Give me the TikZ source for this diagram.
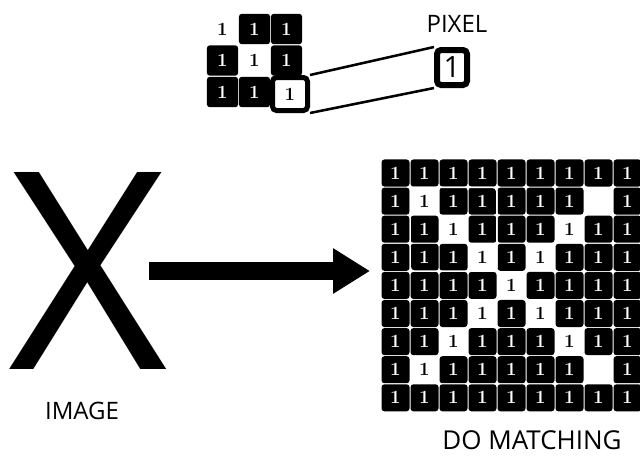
\documentclass[tikz,border=0pt]{standalone}
\usepackage{fontspec}
\setsansfont{Open Sans}
\usetikzlibrary{arrows.meta}
\tikzset{
  cellblk/.style={fill=black,text=white,rounded corners=2.2pt,inner sep=0pt,
    minimum width=21pt,minimum height=20.3pt,font=\fontsize{14}{14}\selectfont\bfseries},
  cellwht/.style={cellblk,fill=white,text=black},
  smallblk/.style={cellblk,minimum width=23.4pt,minimum height=22.8pt},
  smallwht/.style={smallblk,fill=white,text=black},
  hlcell/.style={smallwht,draw=black,line width=3.75pt,rounded corners=3pt,
    minimum width=26.25pt,minimum height=24.75pt},
  pixbox/.style={draw=black,fill=white,line width=4.5pt,rounded corners=3pt,inner sep=0pt,
    minimum width=22.5pt,minimum height=26.25pt,font=\sffamily\fontsize{22}{22}\selectfont},
  zoomline/.style={line width=1.9pt},
  hlframe/.style={draw=white,line width=1.1pt,rounded corners=3pt},
  lbl/.style={inner sep=0pt,font=\sffamily\fontsize{18}{18}\selectfont},
  bigx/.style={inner sep=0pt,font=\sffamily\fontsize{207}{207}\selectfont},
  bigarrow/.style={line width=13.5pt,-{Triangle[length=27.75pt,width=32.25pt]}}
}
\begin{document}
\begin{tikzpicture}[x=0.75pt,y=-0.75pt]
  \useasboundingbox (0,0) rectangle (640,455);
  \foreach \cells [count=\r from 0] in {{1,0,0},{0,1,0},{0,0,2}}
    \foreach \v [count=\k from 0] in \cells {
      \ifnum\v=0
        \node[smallblk] (s-\r-\k) at ({222.5+32*\k},{29+31.5*\r}) {1};
      \else\ifnum\v=1
        \node[smallwht] (s-\r-\k) at ({222.5+32*\k},{29+31.5*\r}) {1};
      \fi\fi
    }
  \node[hlcell] (hl) at (290,94) {1};
  \node[pixbox] (px) at (452,67.5) {1};
  \draw[zoomline] (hl.north east) -- (px.north west);
  \draw[zoomline] (hl.south east) -- (px.south west);
  \node[lbl] (pixlbl) at (457,24) {PIXEL};
  \node[bigx] (img) at (88,270.5) {X};
  \node[lbl] (imglbl) at (82,411) {IMAGE};
  \foreach \cells [count=\r from 0] in {
      {0,0,0,0,0,0,0,0,0},{0,1,0,0,0,0,0,2,0},{0,0,1,0,0,0,1,0,0},
      {0,0,0,1,0,1,0,0,0},{0,0,0,0,1,0,0,0,0},{0,0,0,1,0,1,0,0,0},
      {0,0,1,0,0,0,1,0,0},{0,1,0,0,0,0,0,2,0},{0,0,0,0,0,0,0,0,0}}
    \foreach \v [count=\k from 0] in \cells {
      \ifnum\v=0
        \node[cellblk] (c-\r-\k) at ({395.5+29*\k},{173+28.1*\r}) {1};
      \else\ifnum\v=1
        \node[cellwht] (c-\r-\k) at ({395.5+29*\k},{173+28.1*\r}) {1};
      \else
        \node[cellwht] (c-\r-\k) at ({395.5+29*\k},{173+28.1*\r}) {};
      \fi\fi
    }
  \draw[hlframe] (c-1-1.north west) rectangle (c-3-3.south east);
  \node[lbl,font=\sffamily\fontsize{19.5}{19.5}\selectfont] (matchlbl) at (532,440) {DO MATCHING};
  \coordinate (src) at (149,271);
  \coordinate (dst) at (370,271);
  \draw[bigarrow] (src) -- (dst);
\end{tikzpicture}
\end{document}
